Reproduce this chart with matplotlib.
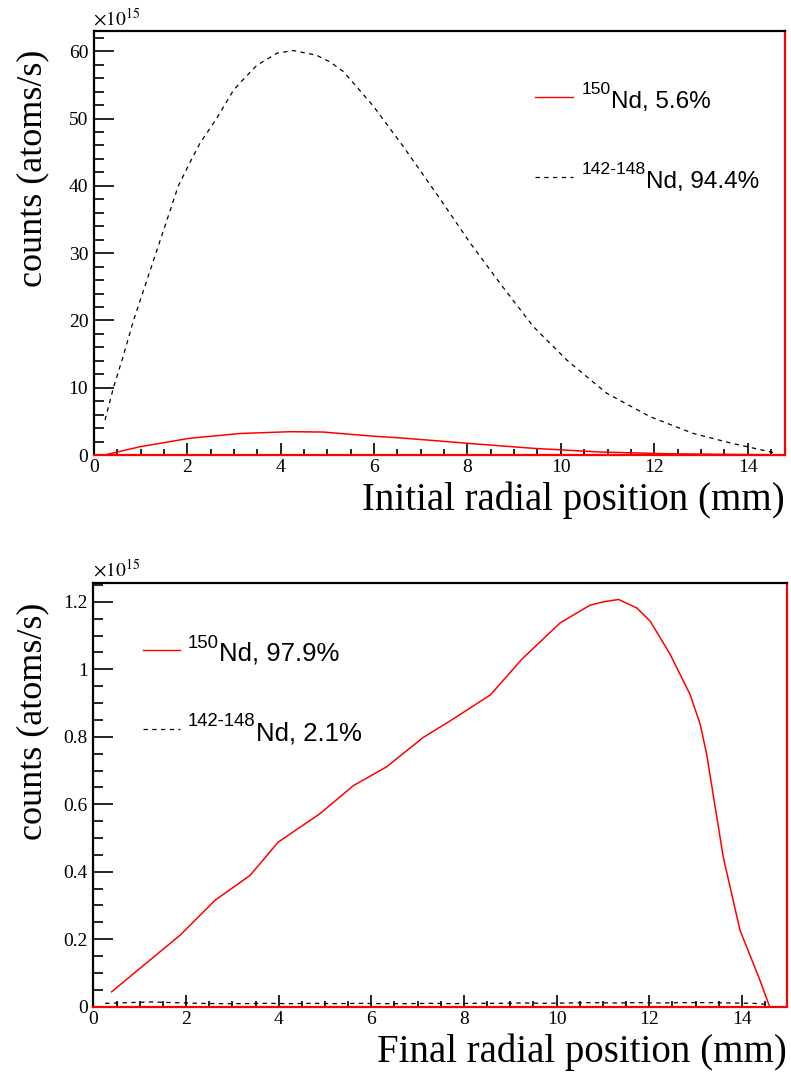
import matplotlib
matplotlib.use('Agg')
import matplotlib.pyplot as plt
from matplotlib.lines import Line2D
from matplotlib.ticker import MultipleLocator, FuncFormatter

plt.rcParams['font.family'] = 'Liberation Serif'

#%% data (units of 1e15 atoms/s) ------------------------------------------------
# initial radial position
x_ini_light = [0.24, 0.42, 0.63, 0.85, 1.33, 1.81, 2.06, 2.27, 2.63, 2.99, 3.20, 3.49, 3.92, 4.27, 4.77,
               5.06, 5.34, 5.63, 5.99, 6.63, 7.38, 8.06, 8.70, 9.41, 10.13, 10.98, 11.91, 12.84, 13.69, 14.60]
y_ini_light = [5.2, 10.0, 14.7, 20.0, 30.0, 40.0, 43.5, 46.3, 50.0, 54.2, 55.8, 57.9, 59.7, 60.1, 59.4,
               58.4, 57.0, 54.7, 51.8, 45.8, 38.4, 31.5, 25.5, 19.1, 14.1, 9.2, 5.7, 3.2, 1.7, 0.3]
x_ini_150 = [0.22, 0.99, 2.06, 3.13, 4.20, 4.91, 5.99, 6.56, 7.38, 7.99, 9.41, 10.84, 12.27, 13.50, 14.41]
y_ini_150 = [0.0, 1.24, 2.5, 3.2, 3.47, 3.42, 2.8, 2.55, 2.1, 1.75, 1.0, 0.45, 0.2, 0.1, 0.05]

# final radial position
x_fin_150 = [0.39, 1.87, 2.62, 3.38, 3.99, 4.89, 5.61, 6.33, 7.12, 7.70, 8.57, 9.25, 10.08, 10.72,
             11.01, 11.34, 11.73, 12.02, 12.45, 12.88, 13.10, 13.24, 13.60, 13.96, 14.39, 14.60]
y_fin_150 = [0.044, 0.212, 0.315, 0.389, 0.488, 0.572, 0.655, 0.711, 0.798, 0.847, 0.924, 1.030, 1.138, 1.190,
             1.200, 1.207, 1.182, 1.143, 1.045, 0.926, 0.838, 0.749, 0.443, 0.227, 0.079, 0.0]
x_fin_light = [0.25, 0.75, 1.25, 1.75, 2.25, 2.75, 3.25, 3.75, 4.25, 4.75, 5.25, 5.75, 6.25, 6.75, 7.25,
               7.75, 8.25, 8.75, 9.25, 9.75, 10.25, 10.75, 11.25, 11.75, 12.25, 12.75, 13.25, 13.75, 14.25, 14.6]
y_fin_light = [0.010, 0.012, 0.014, 0.012, 0.010, 0.009, 0.009, 0.010, 0.009, 0.010, 0.009, 0.010, 0.009,
               0.009, 0.010, 0.009, 0.010, 0.010, 0.011, 0.010, 0.011, 0.012, 0.011, 0.012, 0.011,
               0.012, 0.012, 0.011, 0.010, 0.006]

labels_ini = ['5.6%', '94.4%']
labels_fin = ['97.9%', '2.1%']

#%% figure ---------------------------------------------------------------------
W, H = 791, 1073
fig = plt.figure(figsize=(W/100, H/100), dpi=100)
ax1 = fig.add_axes([0.1186, 0.5759, 0.8738, 0.3952])
ax2 = fig.add_axes([0.1182, 0.0618, 0.8764, 0.3946])

dash = (0, (3.5, 3.5))
ax1.plot(x_ini_150, y_ini_150, color='red', lw=1.1)
ax1.plot(x_ini_light, y_ini_light, color='black', lw=0.9, ls=dash)
ax2.plot(x_fin_150, y_fin_150, color='red', lw=1.1)
ax2.plot(x_fin_light, y_fin_light, color='black', lw=0.9, ls=dash)


def style(ax, xmax, ymax, ymaj, ymin, xlabel):
    ax.set_xlim(0, xmax)
    ax.set_ylim(0, ymax)
    ax.xaxis.set_major_locator(MultipleLocator(2))
    ax.xaxis.set_minor_locator(MultipleLocator(0.5))
    ax.yaxis.set_major_locator(MultipleLocator(ymaj))
    ax.yaxis.set_minor_locator(MultipleLocator(ymin))
    ax.yaxis.set_major_formatter(FuncFormatter(lambda v, p: f'{v:g}'))
    ax.tick_params(which='both', direction='in', top=False, right=False,
                   labelsize=14, width=1.2, color='black')
    ax.tick_params(axis='y', which='major', length=14.4, pad=4)
    ax.tick_params(axis='y', which='minor', length=7.2)
    ax.tick_params(axis='x', which='major', length=8.6, pad=3)
    ax.tick_params(axis='x', which='minor', length=4.3)
    for s in ['left', 'top']:
        ax.spines[s].set_color('black')
        ax.spines[s].set_linewidth(1.6)
    for s in ['right', 'bottom']:
        ax.spines[s].set_color('red')
        ax.spines[s].set_linewidth(1.6)
    ax.set_xlabel(xlabel, fontsize=28, loc='right', labelpad=4)
    ax.set_ylabel('counts (atoms/s)', fontsize=26, loc='top')
    ax.yaxis.set_label_coords(-0.064, 0.955)


style(ax1, 14.8, 63.0, 10, 2, 'Initial radial position (mm)')
style(ax2, 14.97, 1.255, 0.2, 0.05, 'Final radial position (mm)')

# x10^15 multipliers
fig.text(93/W, 1-26/H, r'$\times10^{15}$', fontsize=14, math_fontfamily='stix', va='baseline')
fig.text(93/W, 1-577/H, r'$\times10^{15}$', fontsize=14, math_fontfamily='stix', va='baseline')

# legends (drawn by hand, ROOT-like spacing)
entries = []


def entry(x0, x1, xt, y, color, ls, lw, sup, txt, fs):
    fig.add_artist(Line2D([x0/W, x1/W], [1-y/H, 1-y/H], color=color, ls=ls, lw=lw))
    base = y + 11
    t = fig.text(xt/W, 1-(base-13.5)/H, sup, fontsize=fs*0.72, family='Liberation Sans',
                 va='baseline', ha='left')
    entries.append((t, base, txt, fs))


entry(535, 573, 582, 97, 'red', '-', 1.0, '150', 'Nd, ' + labels_ini[0], 17.5)
entry(535, 573, 582, 177, 'black', dash, 0.9, '142-148', 'Nd, ' + labels_ini[1], 17.5)
entry(143, 180, 188, 650, 'red', '-', 1.0, '150', 'Nd, ' + labels_fin[0], 18.5)
entry(143, 180, 188, 729, 'black', dash, 0.9, '142-148', 'Nd, ' + labels_fin[1], 18.5)

fig.canvas.draw()
r = fig.canvas.get_renderer()
for t, base, txt, fs in entries:
    x_end = t.get_window_extent(r).x1
    fig.text(x_end/W, 1-base/H, txt, fontsize=fs, family='Liberation Sans', va='baseline', ha='left')

plt.savefig('out.png', dpi=100)
